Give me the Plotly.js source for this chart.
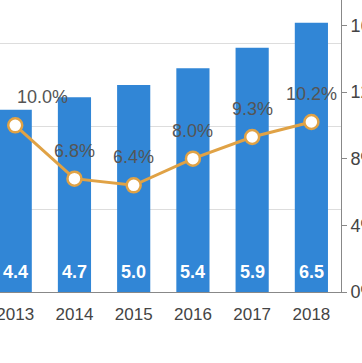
<!DOCTYPE html>
<html>
<head>
<meta charset="utf-8">
<script src="https://cdn.plot.ly/plotly-3.0.1.min.js"></script>
<style>
html,body{margin:0;padding:0;background:#fff;}
#chart{width:362px;height:363px;}
</style>
</head>
<body>
<div id="chart"></div>
<script>
const years = ['2013','2014','2015','2016','2017','2018'];
const barValues = [4.4, 4.7, 5.0, 5.4, 5.9, 6.5];
const growthPct = [10.0, 6.8, 6.4, 8.0, 9.3, 10.2];
const rightTicks = [0, 4, 8, 12, 16];

const FONT = 'Liberation Sans, Arial, sans-serif';

const barTrace = {
  type: 'bar',
  x: years,
  y: barValues,
  width: 0.56,
  marker: {color: '#3186d6'},
  hoverinfo: 'skip',
  yaxis: 'y'
};

const lineTrace = {
  type: 'scatter',
  mode: 'lines+markers',
  x: years,
  y: growthPct,
  yaxis: 'y2',
  line: {color: '#e0a245', width: 3},
  marker: {size: 14, color: '#ffffff', line: {color: '#e0a245', width: 2.5}},
  cliponaxis: false,
  hoverinfo: 'skip'
};

const barLabels = years.map((yr, i) => ({
  x: i, y: 0, xref: 'x', yref: 'y',
  text: '<b>' + barValues[i].toFixed(1) + '</b>',
  showarrow: false,
  yanchor: 'bottom',
  yshift: 8,
  font: {family: FONT, size: 18, color: '#ffffff'}
}));

const lineLabels = years.map((yr, i) => ({
  x: i, y: growthPct[i], xref: 'x', yref: 'y2',
  text: growthPct[i].toFixed(1) + '%',
  showarrow: false,
  xanchor: i === 0 ? 'left' : 'center',
  yanchor: 'middle',
  yshift: 28,
  font: {family: FONT, size: 18, color: '#555555'}
}));

const layout = {
  width: 362, height: 363,
  margin: {l: 0, r: 21, t: 0, b: 71, pad: 0},
  paper_bgcolor: '#ffffff',
  plot_bgcolor: '#ffffff',
  showlegend: false,
  font: {family: FONT, color: '#444444'},
  xaxis: {
    type: 'category',
    range: [-0.257, 5.5],
    showline: true, linecolor: '#888888', linewidth: 1,
    ticks: '', showgrid: false,
    ticklabelstandoff: 7,
    tickfont: {size: 17, color: '#444444'},
    fixedrange: true
  },
  yaxis: {
    range: [0, 7.05],
    dtick: 2,
    showgrid: true, gridcolor: '#dddddd', gridwidth: 1,
    showticklabels: false, showline: false, zeroline: false,
    ticks: ''
  },
  yaxis2: {
    overlaying: 'y', side: 'right',
    range: [0, 17.52],
    tickvals: rightTicks,
    ticktext: rightTicks.map(v => v + '%'),
    showgrid: false, zeroline: false,
    showline: true, linecolor: '#888888', linewidth: 1,
    ticks: 'outside', ticklen: 5, tickcolor: '#888888',
    tickfont: {size: 18, color: '#444444'}
  },
  annotations: barLabels.concat(lineLabels)
};

Plotly.newPlot('chart', [barTrace, lineTrace], layout, {staticPlot: true, displayModeBar: false});
</script>
</body>
</html>
